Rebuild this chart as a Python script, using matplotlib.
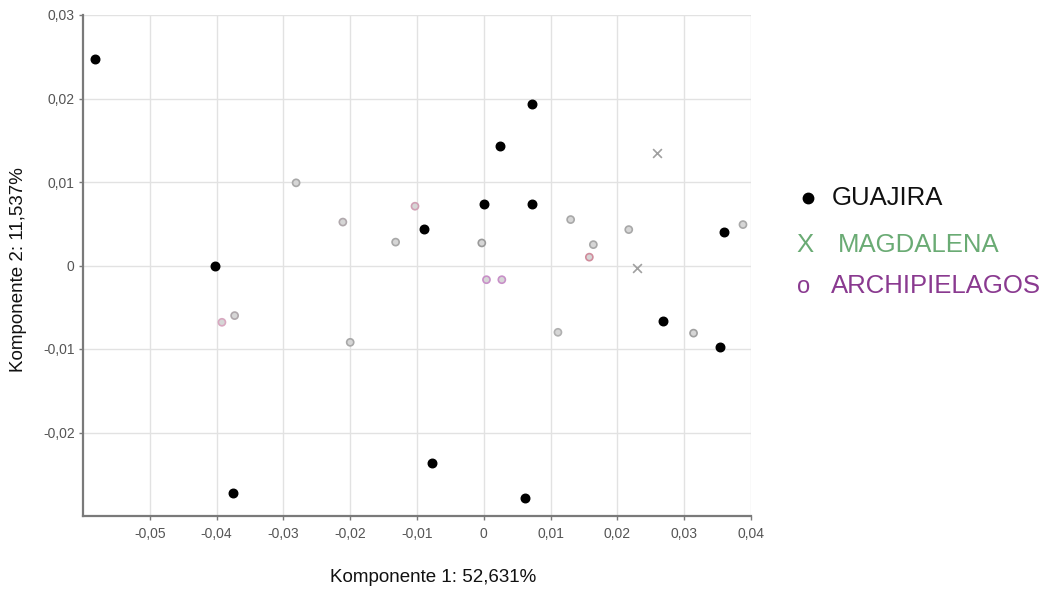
import matplotlib.pyplot as plt
from matplotlib.lines import Line2D
from matplotlib.ticker import FuncFormatter

plt.rcParams['font.family'] = ['Liberation Sans', 'DejaVu Sans']

# PCA scores per population
guajira_x = [-0.0582, -0.0402, -0.0376, -0.0090, -0.0078, 0.0000, 0.0025,
             0.0072, 0.0072, 0.0061, 0.0268, 0.0360, 0.0354]
guajira_y = [0.0247, -0.0001, -0.0273, 0.0044, -0.0236, 0.0074, 0.0143,
             0.0194, 0.0074, -0.0279, -0.0067, 0.0040, -0.0098]

magdalena_x = [0.0259, 0.0229]
magdalena_y = [0.0135, -0.0003]

archip_x = [-0.0281, -0.0211, -0.0132, -0.0103, -0.0003, 0.0130, 0.0164,
            0.0158, 0.0217, 0.0388, 0.0004, 0.0027, -0.0392, -0.0373,
            -0.0200, 0.0111, 0.0314]
archip_y = [0.0099, 0.0052, 0.0028, 0.0071, 0.0027, 0.0055, 0.0025,
            0.0010, 0.0043, 0.0049, -0.0017, -0.0017, -0.0068, -0.0060,
            -0.0092, -0.0080, -0.0081]

legend_labels = ['GUAJIRA', 'MAGDALENA', 'ARCHIPIELAGOS']
x_label = 'Komponente 1: 52,631%'
y_label = 'Komponente 2: 11,537%'
x_ticks = [-0.05, -0.04, -0.03, -0.02, -0.01, 0.0, 0.01, 0.02, 0.03, 0.04]
y_ticks = [-0.02, -0.01, 0.0, 0.01, 0.02, 0.03]

# marker tints for the archipelago samples
arch_edge = ['#a8a8a8', '#b0a8ac', '#a8a8a8', '#d0a0b4', '#9a9a9a', '#a8a8a8',
             '#a8a8a8', '#d08c9c', '#a8a8a8', '#a8a8a8', '#c890c8', '#c890c8',
             '#d8a8c0', '#b0a8ac', '#a8a8a8', '#b0b0b0', '#a0a0a0']

W, H = 1061, 589
fig = plt.figure(figsize=(W / 100, H / 100), dpi=100)
ax = fig.add_axes([83 / W, 1 - 516 / H, (751 - 83) / W, (516 - 15) / H])

ax.set_xlim(-0.06, 0.04)
ax.set_ylim(-0.03, 0.03)
ax.set_xticks(x_ticks)
ax.set_yticks(y_ticks)

fmt = FuncFormatter(lambda v, p: '0' if abs(v) < 1e-9 else f'{v:.2f}'.replace('.', ','))
ax.xaxis.set_major_formatter(fmt)
ax.yaxis.set_major_formatter(fmt)

ax.grid(True, color='#e2e2e2', linewidth=1.0)
ax.set_axisbelow(True)
for side in ('top', 'right'):
    ax.spines[side].set_visible(False)
for side in ('left', 'bottom'):
    ax.spines[side].set_color('#7a7a7a')
    ax.spines[side].set_linewidth(1.6)
ax.tick_params(axis='both', length=3, width=1, color='#7a7a7a',
               labelsize=10, labelcolor='#555555', pad=3)
ax.tick_params(axis='x', pad=5)

ax.scatter(archip_x, archip_y, s=26, facecolors='#d6d6d6', edgecolors=arch_edge,
           linewidths=1.2, zorder=3)
ax.scatter(magdalena_x, magdalena_y, s=40, marker='x', color='#a0a0a0',
           linewidths=1.2, zorder=3)
ax.scatter(guajira_x, guajira_y, s=38, color='black', zorder=4)

# axis titles
fig.text(433 / W, 1 - 577 / H, x_label, fontsize=13.5, color='#111111',
         ha='center', va='center')
fig.text(19 / W, 1 - 270 / H, y_label, fontsize=13.5, color='#111111',
         ha='center', va='center', rotation=90)

# legend drawn as symbol + text rows
green = '#6aab74'
purple = '#8a3a90'
fig.add_artist(Line2D([808 / W], [1 - 198 / H], marker='o', markersize=7.5,
                      color='black', transform=fig.transFigure))
fig.text(832 / W, 1 - 205 / H, legend_labels[0], fontsize=18.5,
         color='#111111', ha='left', va='baseline')
fig.text(805 / W, 1 - 252 / H, 'X', fontsize=18.5, color=green,
         ha='center', va='baseline')
fig.text(838 / W, 1 - 252 / H, legend_labels[1], fontsize=18.5,
         color=green, ha='left', va='baseline')
fig.text(804 / W, 1 - 293 / H, 'o', fontsize=17, color=purple,
         ha='center', va='baseline')
fig.text(831 / W, 1 - 293 / H, legend_labels[2], fontsize=18.5,
         color=purple, ha='left', va='baseline')

fig.savefig('out.png', dpi=100)
